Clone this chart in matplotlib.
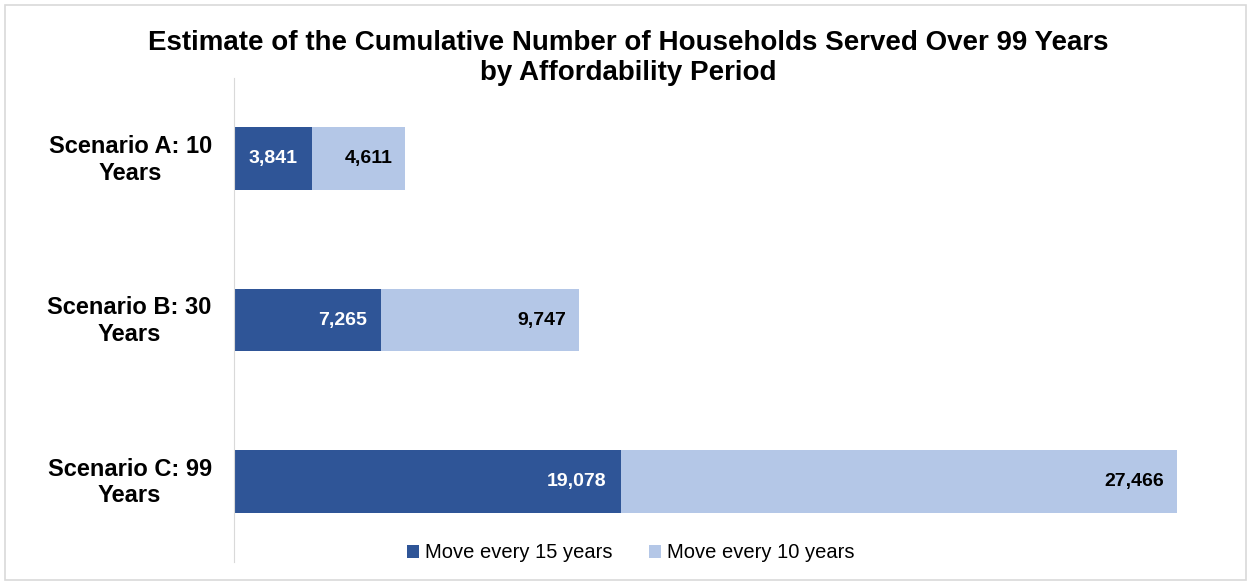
import numpy as np
import matplotlib
matplotlib.use("Agg")
from matplotlib import pyplot as plt
import matplotlib.patches as mpatches

plt.rcParams['font.family'] = ['Liberation Sans', 'DejaVu Sans']

# data
scenarios = ['Scenario A: 10\nYears', 'Scenario B: 30\nYears', 'Scenario C: 99\nYears']
move_15 = [3841, 7265, 19078]
move_10 = [4611, 9747, 27466]
series_names = ['Move every 15 years', 'Move every 10 years']

dark = '#2F5597'
light = '#B4C7E7'

fig = plt.figure(figsize=(12.49, 5.83), dpi=100)
ax = fig.add_axes([234/1249, 21/583, 973/1249, 484/583])

y = np.arange(len(scenarios))
ax.barh(y, move_15, height=0.39, color=dark, label=series_names[0])
ax.barh(y, move_10, left=move_15, height=0.39, color=light, label=series_names[1])

# value labels at inside end of each segment
for i in range(len(scenarios)):
    ax.annotate(f'{move_15[i]:,}', (move_15[i], y[i]), xytext=(-14, 0),
                textcoords='offset pixels', ha='right', va='center',
                color='white', fontsize=14, fontweight='bold')
    end = move_15[i] + move_10[i]
    ax.annotate(f'{move_10[i]:,}', (end, y[i]), xytext=(-13, 0),
                textcoords='offset pixels', ha='right', va='center',
                color='black', fontsize=14, fontweight='bold')

ax.set_xlim(0, 48000)
ax.set_ylim(2.5, -0.5)
ax.set_yticks(y - 0.02)
ax.set_yticklabels(scenarios, fontsize=17, fontweight='bold')
for t in ax.get_yticklabels():
    t.set_multialignment('center')
ax.tick_params(axis='y', length=0, pad=16)
ax.set_xticks([])
for s in ['top', 'right', 'bottom']:
    ax.spines[s].set_visible(False)
ax.spines['left'].set_color('#d9d9d9')

fig.text(0.503, 1 - 43/583, 'Estimate of the Cumulative Number of Households Served Over 99 Years',
         ha='center', va='center', fontsize=20, fontweight='bold')
fig.text(0.503, 1 - 73/583, 'by Affordability Period',
         ha='center', va='center', fontsize=20, fontweight='bold')

fig.legend(loc='center', bbox_to_anchor=(0.505, 1 - 553/583), ncol=2, frameon=False,
           fontsize=14.5, handlelength=0.6, handleheight=0.6, handletextpad=0.3,
           columnspacing=1.8)

# outer frame
fig.patches.append(mpatches.Rectangle((5/1249, 3/583), 1241/1249, 575/583,
                                      transform=fig.transFigure, fill=False,
                                      edgecolor='#d9d9d9', linewidth=1.2))

fig.savefig('out.png', dpi=100)
